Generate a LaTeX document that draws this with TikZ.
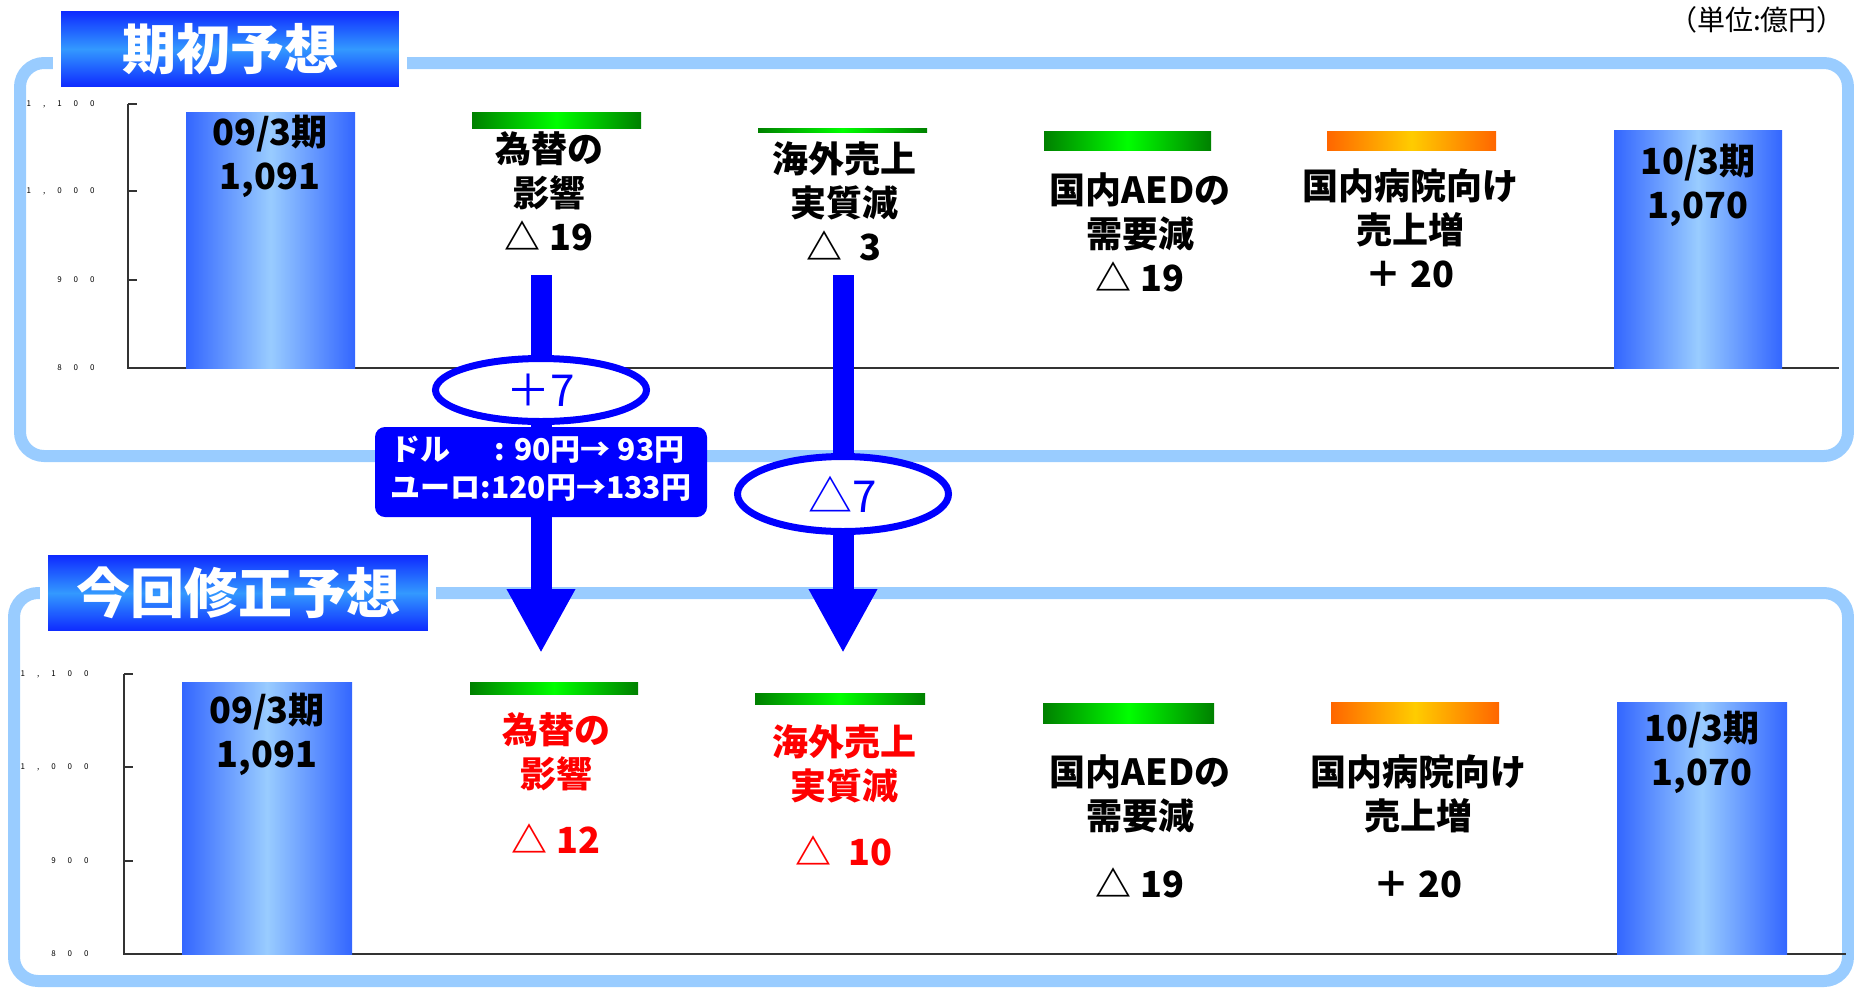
\documentclass[tikz,border=0pt]{standalone}
\usepackage{fontspec}
\setmainfont{Noto Sans CJK JP}
\usepackage{tikz}
\usetikzlibrary{arrows.meta,shapes}
\usetikzlibrary{positioning}
\definecolor{frameblue}{HTML}{99CCFF}
\definecolor{barblue}{HTML}{3366FF}
\definecolor{barlight}{HTML}{99CCFF}
\definecolor{darkgreen}{HTML}{008000}
\definecolor{litegreen}{HTML}{00FF00}
\definecolor{orangeend}{HTML}{FF6600}
\definecolor{orangemid}{HTML}{FFCC00}
\definecolor{titleblue}{HTML}{0A1EFF}
\definecolor{titlemid}{HTML}{3399FF}
\definecolor{arrowblue}{HTML}{0000FF}
\tikzset{
    panelframe/.style={draw=frameblue, line width=6pt, rounded corners=12pt},
    titlebox/.style={draw=white, line width=4pt, top color=titleblue, bottom color=titleblue,
        middle color=titlemid, text=white, inner sep=0pt, font=\fontsize{27}{27}\selectfont\bfseries},
    chartaxis/.style={draw=black!80, line width=0.7pt},
    ticklabel/.style={anchor=east, inner sep=0pt, font=\fontsize{4}{4}\selectfont\addfontfeatures{LetterSpace=150}},
    bluebar/.style={left color=barblue, right color=barblue, middle color=barlight},
    greenbar/.style={left color=darkgreen, right color=darkgreen, middle color=litegreen},
    orangebar/.style={left color=orangeend, right color=orangeend, middle color=orangemid},
    itemlabel/.style={align=center, inner sep=0pt, font=\fontsize{18}{22}\selectfont\bfseries},
    bigarrow/.style={draw=arrowblue, line width=10.5pt, -{Triangle[width=32pt, length=32pt]}},
    diffoval/.style={ellipse, draw=arrowblue, line width=3.5pt, fill=white, text=arrowblue,
        inner sep=0pt, minimum width=105.5pt, font=\fontsize{22}{22}\selectfont},
    ratebox/.style={fill=arrowblue, rounded corners=5pt, text=white, minimum width=166pt,
        minimum height=45pt, inner sep=0pt, font=\fontsize{15}{19}\selectfont\bfseries},
}
\begin{document}
\begin{tikzpicture}[x=0.5pt, y=-0.5pt]
	\useasboundingbox (0,0) rectangle (1854,987);
	\node[font=\fontsize{14}{14}\selectfont] (unit) at (1757,20) {（単位:億円）};
	% panels
	\draw[panelframe] (20,63) rectangle (1848,456);
	\draw[panelframe] (14,593) rectangle (1848,981);
	\node[titlebox, minimum width=173pt, minimum height=42pt] (firsttitle) at (230,49) {期初予想};
	\node[titlebox, minimum width=194pt, minimum height=42pt] (revtitle) at (238,593) {今回修正予想};
	% upper chart
	\draw[chartaxis] (128,104) -- (128,368) -- (1839,368);
	\draw[chartaxis] (128,104) -- (137,104);
	\draw[chartaxis] (128,191) -- (137,191);
	\draw[chartaxis] (128,280) -- (137,280);
	\node[ticklabel] at (95,104) {1,100};
	\node[ticklabel] at (95,191) {1,000};
	\node[ticklabel] at (95,280) {900};
	\node[ticklabel] at (95,368) {800};
	\path[bluebar] (186,112) rectangle (355,368);
	\path[greenbar] (472,112) rectangle (641,128);
	\path[greenbar] (758,128) rectangle (927,132);
	\path[greenbar] (1044,131) rectangle (1211,150);
	\path[orangebar] (1327,131) rectangle (1496,150);
	\path[bluebar] (1614,130) rectangle (1782,368);
	\node[itemlabel] (lastlbl) at (270,156) {09/3期\\1,091};
	\node[itemlabel] (fxlbl) at (549,191) {為替の\\影響\\△ 19};
	\node[itemlabel] (ovlbl) at (844,201) {海外売上\\実質減\\△\ \ 3};
	\node[itemlabel] (aedlbl) at (1140,232) {国内AEDの\\需要減\\△ 19};
	\node[itemlabel] (hosplbl) at (1410,228) {国内病院向け\\売上増\\＋ 20};
	\node[itemlabel] (nextlbl) at (1698,185) {10/3期\\1,070};
	% lower chart
	\draw[chartaxis] (124,674) -- (124,954) -- (1846,954);
	\draw[chartaxis] (124,674) -- (133,674);
	\draw[chartaxis] (124,767) -- (133,767);
	\draw[chartaxis] (124,861) -- (133,861);
	\node[ticklabel] at (89,674) {1,100};
	\node[ticklabel] at (89,767) {1,000};
	\node[ticklabel] at (89,861) {900};
	\node[ticklabel] at (89,954) {800};
	\path[bluebar] (182,682) rectangle (352,954);
	\path[greenbar] (470,682) rectangle (638,694);
	\path[greenbar] (755,693) rectangle (925,704);
	\path[greenbar] (1043,703) rectangle (1214,723);
	\path[orangebar] (1331,702) rectangle (1499,723);
	\path[bluebar] (1617,702) rectangle (1787,954);
	\node[itemlabel] (lastlbl2) at (267,734) {09/3期\\1,091};
	\node[itemlabel, text=red] (fxlbl2) at (556,783) {為替の\\影響\\[11pt]△ 12};
	\node[itemlabel, text=red] (ovlbl2) at (844,795) {海外売上\\実質減\\[11pt]△\ \ 10};
	\node[itemlabel] (aedlbl2) at (1140,826) {国内AEDの\\需要減\\[12pt]△ 19};
	\node[itemlabel] (hosplbl2) at (1418,826) {国内病院向け\\売上増\\[12pt]＋ 20};
	\node[itemlabel] (nextlbl2) at (1702,752) {10/3期\\1,070};
	% revisions
	\coordinate (fxtop) at (541,275);
	\coordinate (fxtip) at (541,653);
	\coordinate (ovtop) at (843,275);
	\coordinate (ovtip) at (843,653);
	\draw[bigarrow] (fxtop) -- (fxtip);
	\draw[bigarrow] (ovtop) -- (ovtip);
	\node[diffoval, minimum height=31.5pt] (fxdiff) at (541,390) {＋7};
	\node[diffoval, minimum height=37.5pt] (ovdiff) at (843,494) {△7};
	\node[ratebox] (fxrate) at (541,472) {\begin{tabular}{@{}l@{}l@{}}ドル & \ \ : 90円→ 93円\\ユーロ & :120円→133円\end{tabular}};
\end{tikzpicture}
\end{document}
